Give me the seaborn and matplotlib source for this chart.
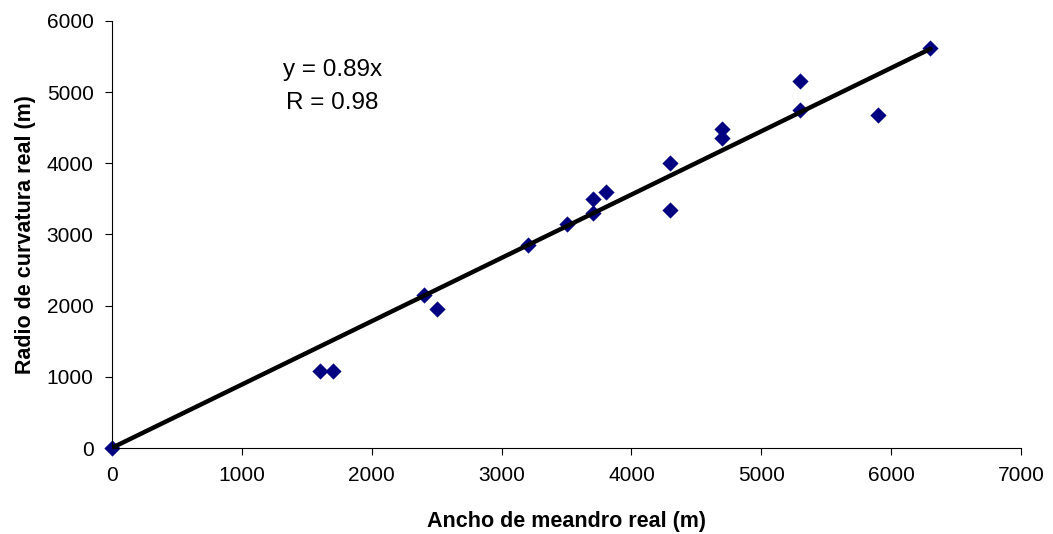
import numpy as np
import pandas as pd
import seaborn as sns
import matplotlib.pyplot as plt

# valores
ancho = [0, 1600, 1700, 2400, 2500, 3200, 3500, 3700, 3700, 3800, 4300, 4300, 4700, 4700, 5300, 5300, 5900, 6300]
radio = [0, 1080, 1080, 2150, 1950, 2850, 3150, 3300, 3500, 3600, 4000, 3350, 4350, 4480, 5150, 4750, 4680, 5620]
pendiente = 0.89
r_coef = 0.98

sns.set_style('white')
plt.rcParams['font.family'] = ['Liberation Sans', 'DejaVu Sans']
plt.rcParams['text.color'] = 'black'
plt.rcParams['axes.labelcolor'] = 'black'
plt.rcParams['xtick.color'] = 'black'
plt.rcParams['ytick.color'] = 'black'

df = pd.DataFrame({'ancho': ancho, 'radio': radio})
trend_x = np.array([0, max(ancho)])
df_trend = pd.DataFrame({'x': trend_x, 'y': pendiente * trend_x})

fig = plt.figure(figsize=(10.53, 5.34), dpi=100)
ax = fig.add_axes([0.106, 0.161, 0.864, 0.800])

sns.lineplot(data=df_trend, x='x', y='y', color='black', linewidth=3.2, ax=ax, zorder=3)
sns.scatterplot(data=df, x='ancho', y='radio', marker='D', s=68, color='#000080',
                edgecolor='#000080', linewidth=0, ax=ax, zorder=2, clip_on=False)

ax.set_xlim(0, 7000)
ax.set_ylim(0, 6000)
ax.set_xticks(range(0, 7001, 1000))
ax.set_yticks(range(0, 6001, 1000))
ax.tick_params(axis='both', direction='out', length=5, width=0.8,
               labelsize=15, pad=8, bottom=True, left=True)

for side in ['top', 'right']:
    ax.spines[side].set_visible(False)
for side in ['left', 'bottom']:
    ax.spines[side].set_color('black')
    ax.spines[side].set_linewidth(0.8)

ax.set_xlabel('Ancho de meandro real (m)', fontsize=15.5, fontweight='bold', labelpad=19)
ax.set_ylabel('Radio de curvatura real (m)', fontsize=15.5, fontweight='bold', labelpad=8)

ax.text(1700, 5310, f'y = {pendiente:.2f}x', ha='center', va='center', fontsize=17.5)
ax.text(1700, 4845, f'R = {r_coef:.2f}', ha='center', va='center', fontsize=17.5)

fig.savefig('out.png', dpi=100)
